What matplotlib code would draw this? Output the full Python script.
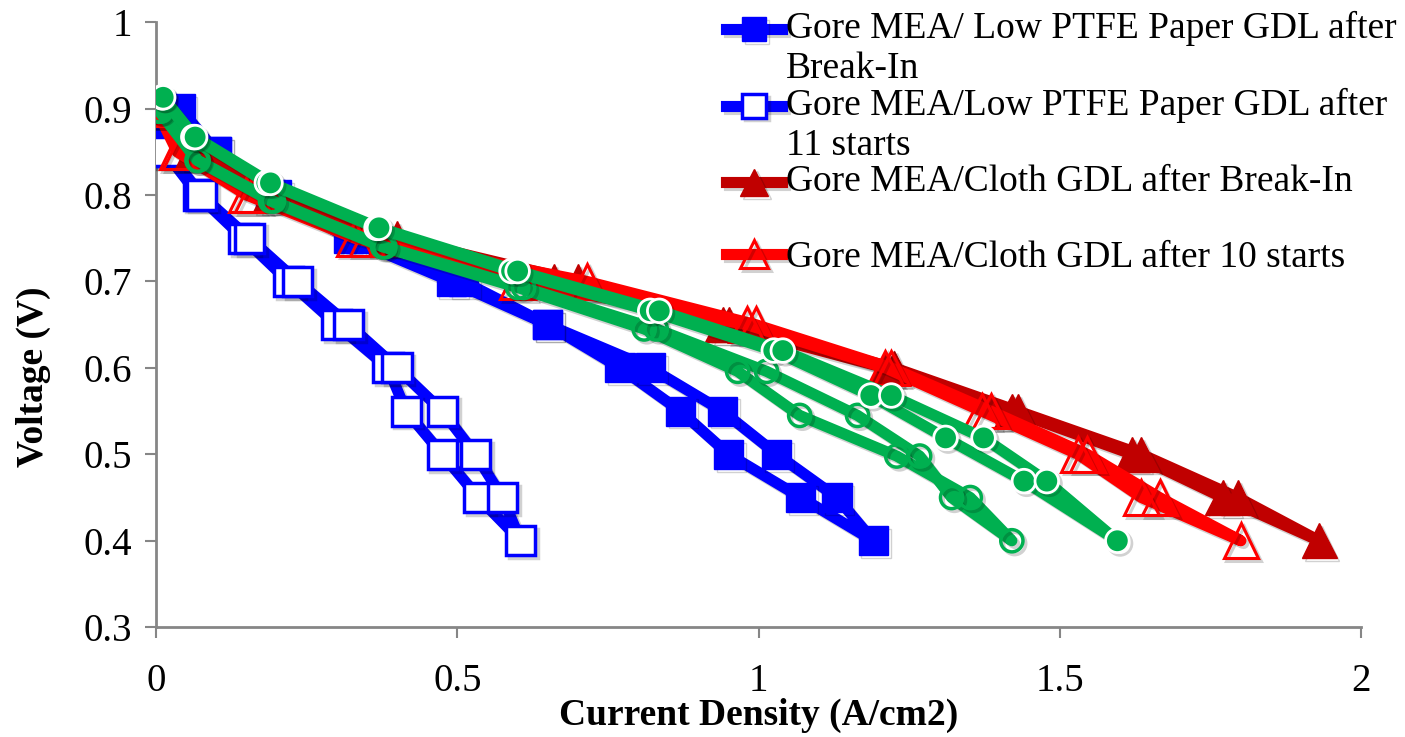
import matplotlib
matplotlib.use("Agg")
import matplotlib.pyplot as plt
import matplotlib.patheffects as pe
import matplotlib.transforms as mtransforms
from matplotlib.legend_handler import HandlerLine2D
from matplotlib.ticker import FixedLocator, FuncFormatter

plt.rcParams['font.family'] = ['Liberation Serif', 'DejaVu Serif']

# voltage steps: sweep down then back up
volts = [0.9, 0.85, 0.8, 0.75, 0.7, 0.65, 0.6, 0.55, 0.5, 0.45, 0.4]
volts_loop = volts + volts[-2::-1]

paper_breakin_i = [0.005, 0.10, 0.19, 0.32, 0.49, 0.65, 0.77, 0.87, 0.95, 1.07, 1.19,
                   1.13, 1.03, 0.94, 0.82, 0.65, 0.51, 0.34, 0.20, 0.10, 0.04]
paper_11_i = [0.0, 0.015, 0.07, 0.145, 0.22, 0.30, 0.385, 0.415, 0.475, 0.535, 0.605,
              0.575, 0.53, 0.475, 0.40, 0.32, 0.235, 0.155, 0.075, 0.02, 0.005]
cloth_breakin_i = [0.0, 0.06, 0.19, 0.38, 0.66, 0.94, 1.21, 1.42, 1.62, 1.77, 1.93,
                   1.795, 1.635, 1.43, 1.225, 0.95, 0.70, 0.40, 0.20, 0.07, 0.005]
cloth_10_i = [0.0, 0.035, 0.15, 0.33, 0.60, 0.98, 1.21, 1.37, 1.53, 1.635, 1.80,
              1.665, 1.545, 1.385, 1.22, 0.995, 0.715, 0.35, 0.16, 0.04, 0.01]

# two extra (unlabelled) green runs
green_a_v = [0.913, 0.867, 0.814, 0.762, 0.712, 0.666, 0.62, 0.568, 0.519, 0.469, 0.4]
green_a_i = [0.01, 0.062, 0.184, 0.366, 0.59, 0.82, 1.025, 1.186, 1.31, 1.44, 1.595,
             1.478, 1.373, 1.22, 1.04, 0.835, 0.60, 0.37, 0.19, 0.065, 0.012]
green_b_v = [0.897, 0.84, 0.793, 0.74, 0.693, 0.645, 0.596, 0.545, 0.498, 0.45, 0.4]
green_b_i = [0.005, 0.068, 0.19, 0.376, 0.60, 0.81, 0.965, 1.068, 1.229, 1.351, 1.42,
             1.32, 1.267, 1.164, 1.013, 0.83, 0.61, 0.38, 0.195, 0.07, 0.008]

labels = ["Gore MEA/ Low PTFE Paper GDL after\nBreak-In",
          "Gore MEA/Low PTFE Paper GDL after\n11 starts",
          "Gore MEA/Cloth GDL after Break-In\n ",
          "Gore MEA/Cloth GDL after 10 starts"]

BLUE = "#0000FF"
DARKRED = "#C00000"
RED = "#FF0000"
GREEN = "#00B050"
GREY = "#868686"

shadow = [pe.SimpleLineShadow(offset=(2, -2), shadow_color="k", alpha=0.18), pe.Normal()]


class TopHandler(HandlerLine2D):
    """legend handle sitting on the first line of a two-line label"""

    def __init__(self, shift=0.0, **kw):
        super().__init__(**kw)
        self.shift = shift

    def create_artists(self, legend, orig_handle, xdescent, ydescent, width,
                       height, fontsize, trans):
        arts = super().create_artists(legend, orig_handle, xdescent, ydescent,
                                      width, height, fontsize, trans)
        off = mtransforms.Affine2D().translate(0, self.shift * fontsize) + trans
        for a in arts:
            a.set_transform(off)
        return arts


def main():
    fig = plt.figure(figsize=(14.05, 7.37), dpi=100)
    ax = fig.add_axes([0.111, 0.149, 0.858, 0.821])

    lw = 8
    h1, = ax.plot(paper_breakin_i, volts_loop, color=BLUE, lw=lw, marker="s", ms=21,
                  mfc=BLUE, mec=BLUE, label=labels[0], path_effects=shadow, zorder=2)
    h2, = ax.plot(paper_11_i, volts_loop, color=BLUE, lw=lw, marker="s", ms=21,
                  mfc="white", mec=BLUE, mew=2.5, label=labels[1], path_effects=shadow,
                  zorder=3)
    h3, = ax.plot(cloth_breakin_i, volts_loop, color=DARKRED, lw=lw, marker="^", ms=25,
                  mfc=DARKRED, mec=DARKRED, label=labels[2], path_effects=shadow, zorder=4)
    h4, = ax.plot(cloth_10_i, volts_loop, color=RED, lw=lw, marker="^", ms=25,
                  mfc="none", mec=RED, mew=2.2, label=labels[3], path_effects=shadow,
                  zorder=5)

    ax.plot(green_b_i, green_b_v + green_b_v[-2::-1], color=GREEN, lw=lw, marker="o",
            ms=16, mfc="none", mec=GREEN, mew=2.5, path_effects=shadow, zorder=6)
    ax.plot(green_a_i, green_a_v + green_a_v[-2::-1], color=GREEN, lw=lw, marker="o",
            ms=17, mfc=GREEN, mec="white", mew=2, path_effects=shadow, zorder=7)

    ax.set_xlim(0, 2)
    ax.set_ylim(0.3, 1.0)
    ax.xaxis.set_major_locator(FixedLocator([0, 0.5, 1, 1.5, 2]))
    ax.yaxis.set_major_locator(FixedLocator([0.3, 0.4, 0.5, 0.6, 0.7, 0.8, 0.9, 1.0]))
    fmt = FuncFormatter(lambda v, p: "%g" % round(v, 2))
    ax.xaxis.set_major_formatter(fmt)
    ax.yaxis.set_major_formatter(fmt)

    for s in ["top", "right"]:
        ax.spines[s].set_visible(False)
    for s in ["left", "bottom"]:
        ax.spines[s].set_color(GREY)
        ax.spines[s].set_linewidth(2)
    ax.tick_params(colors=GREY, labelcolor="black", width=1.5, length=8,
                   labelsize=28, direction="out")
    ax.tick_params(axis="x", pad=18)
    ax.tick_params(axis="y", pad=9)

    ax.set_xlabel("Current Density (A/cm2)", fontsize=27, fontweight="bold", labelpad=-2)
    ax.set_ylabel("Voltage (V)", fontsize=27, fontweight="bold")
    ax.yaxis.set_label_coords(-0.087, 0.414)

    top = TopHandler(shift=0.52)
    ax.legend(handles=[h1, h2, h3, h4], loc="upper left",
              bbox_to_anchor=(726 / 1405, 1 - 11 / 737),
              bbox_transform=fig.transFigure, frameon=False, fontsize=27,
              handlelength=1.5, handletextpad=0.1, labelspacing=0.05,
              borderaxespad=0, borderpad=0, markerscale=0.8,
              handler_map={h1: top, h2: top, h3: top})

    fig.savefig("out.png", dpi=100)


if __name__ == "__main__":
    main()
